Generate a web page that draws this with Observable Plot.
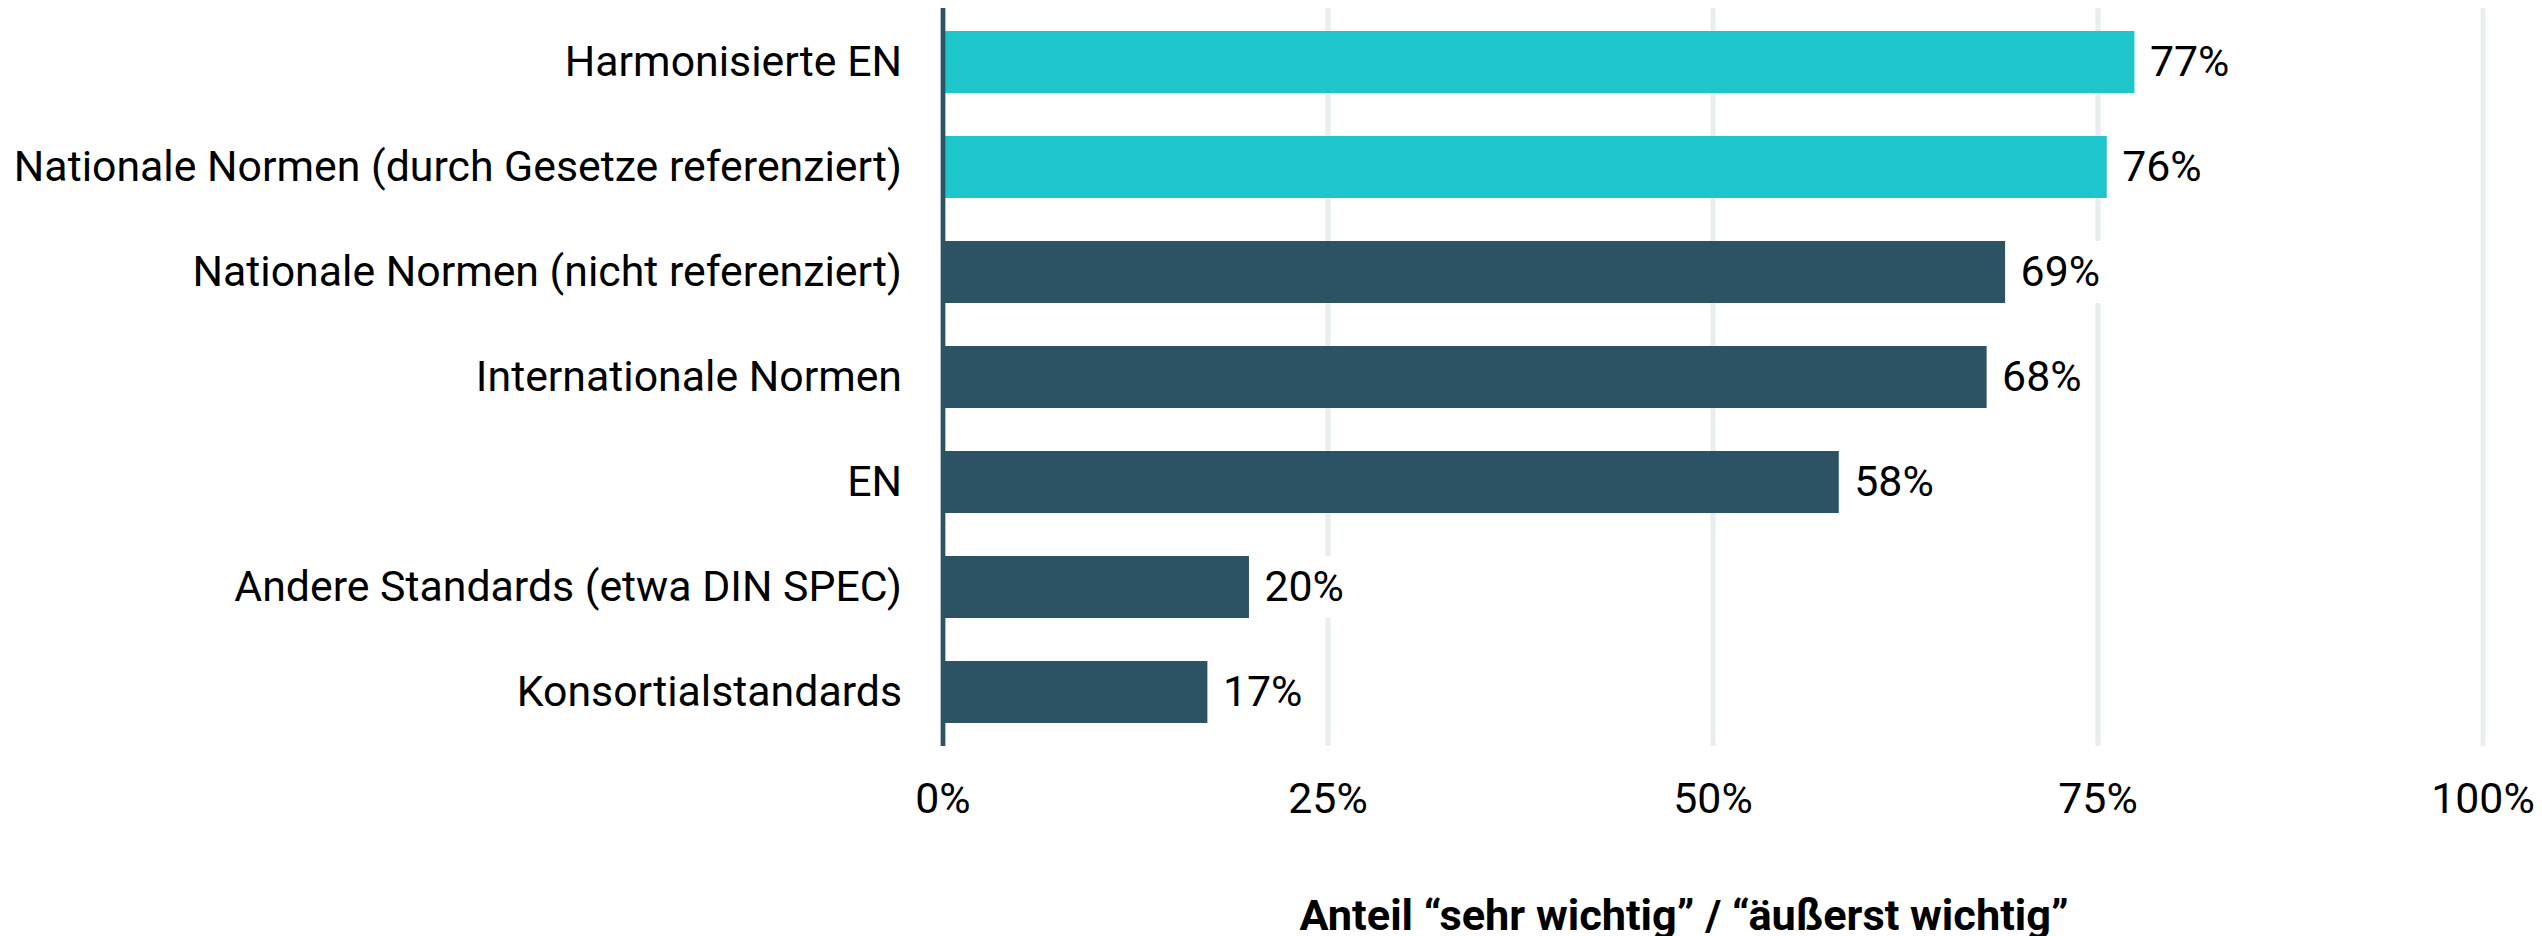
<!DOCTYPE html>
<html>
<head>
<meta charset="utf-8">
<script src="https://cdn.jsdelivr.net/npm/d3@7"></script>
<script src="https://cdn.jsdelivr.net/npm/@observablehq/plot@0.6"></script>
<style>
  html, body { margin: 0; padding: 0; background: #ffffff; }
  #chart { width: 2542px; height: 936px; }
</style>
</head>
<body>
<div id="chart"></div>
<script>
const categories = [
  "Harmonisierte EN",
  "Nationale Normen (durch Gesetze referenziert)",
  "Nationale Normen (nicht referenziert)",
  "Internationale Normen",
  "EN",
  "Andere Standards (etwa DIN SPEC)",
  "Konsortialstandards"
];
const values = [77.4, 75.6, 69.0, 67.8, 58.2, 19.9, 17.2];
const highlighted = [true, true, false, false, false, false, false];
const xTicks = [0, 25, 50, 75, 100];
const gridTicks = [25, 50, 75, 100];
const xTitle = "Anteil \u201Csehr wichtig\u201D / \u201C\u00E4u\u00DFerst wichtig\u201D";

const colorHighlight = "#1ec6cc";
const colorBase = "#2c5364";
const colorGrid = "#e8edf0";

const data = categories.map((c, i) => ({ category: c, value: values[i], hl: highlighted[i] }));

const chart = Plot.plot({
  width: 2542,
  height: 936,
  marginLeft: 942.5,
  marginRight: 59.5,
  marginTop: 8,
  marginBottom: 190,
  style: { fontFamily: "Roboto, sans-serif", fontSize: "42.8px", color: "#000", background: "#fff" },
  x: { domain: [0, 100], ticks: xTicks, tickFormat: d => d + "%" },
  y: { domain: categories, paddingInner: 0.406, paddingOuter: 0.2 },
  marks: [
    Plot.ruleX(gridTicks, { stroke: colorGrid, strokeWidth: 5 }),
    Plot.rectX(data, { x1: "value", x2: d => d.value + 6.5, y: "category", fill: "#fff" }),
    Plot.barX(data, { x: "value", y: "category", fill: d => d.hl ? colorHighlight : colorBase }),
    Plot.ruleX([0], { stroke: colorBase, strokeWidth: 4.7 }),
    Plot.text(data, { x: "value", y: "category", text: d => Math.round(d.value) + "%", textAnchor: "start", dx: 15, fill: "#000" }),
    Plot.axisX({ ticks: xTicks, tickFormat: d => d + "%", tickSize: 0, tickPadding: 36, label: null }),
    Plot.axisY({ tickSize: 0, tickPadding: 41, label: null }),
    Plot.text([xTitle], { frameAnchor: "bottom", lineAnchor: "middle", dy: 170, dx: -29, fontSize: 43.3, fontWeight: "bold", fill: "#000" })
  ]
});

document.getElementById("chart").appendChild(chart);
</script>
</body>
</html>
